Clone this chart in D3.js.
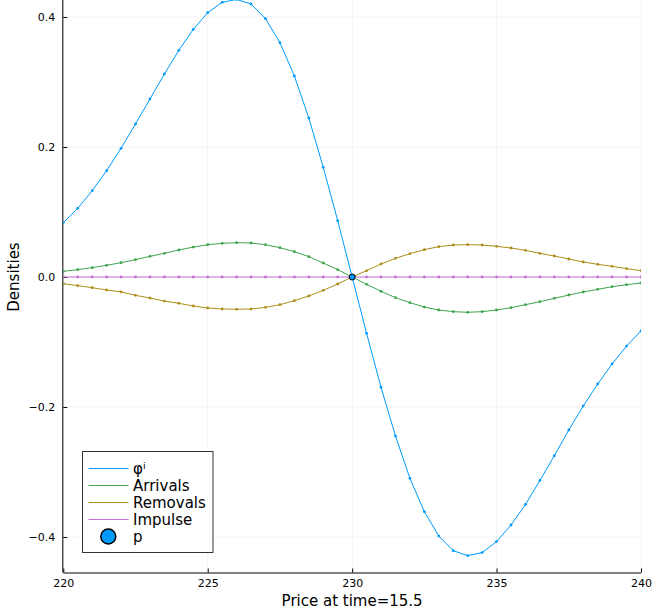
<!DOCTYPE html>
<html>
<head>
<meta charset="utf-8">
<script src="https://cdn.jsdelivr.net/npm/d3@7/dist/d3.min.js"></script>
<style>
  html, body { margin: 0; padding: 0; background: #fff; }
  svg { display: block; font-family: "DejaVu Sans", sans-serif; }
</style>
</head>
<body>
<svg id="chart" width="658" height="613"></svg>
<script>
// ---- data ----
const prices = [220, 220.5, 221, 221.5, 222, 222.5, 223, 223.5, 224, 224.5,
  225, 225.5, 226, 226.5, 227, 227.5, 228, 228.5, 229, 229.5,
  230, 230.5, 231, 231.5, 232, 232.5, 233, 233.5, 234, 234.5,
  235, 235.5, 236, 236.5, 237, 237.5, 238, 238.5, 239, 239.5, 240];

const phi = [0.0835, 0.1057, 0.1328, 0.1636, 0.1980, 0.2354, 0.2738, 0.3123, 0.3487, 0.3810,
  0.4066, 0.4226, 0.4270, 0.4200, 0.3974, 0.3605, 0.3092, 0.2446, 0.1687, 0.0867,
  0.0, -0.0867, -0.1697, -0.2446, -0.3097, -0.3610, -0.3985, -0.4210, -0.4287, -0.4240,
  -0.4070, -0.3815, -0.3500, -0.3130, -0.2750, -0.2354, -0.1985, -0.1646, -0.1338, -0.1062, -0.0831];

const arrivals = [0.0087, 0.0113, 0.0144, 0.0180, 0.0220, 0.0267, 0.0318, 0.0364, 0.0415, 0.0460,
  0.0497, 0.0518, 0.0528, 0.0523, 0.0497, 0.0451, 0.0390, 0.0313, 0.0215, 0.0113,
  0.0, -0.0113, -0.0220, -0.0318, -0.0395, -0.0462, -0.0508, -0.0533, -0.0543, -0.0533,
  -0.0508, -0.0472, -0.0426, -0.0380, -0.0328, -0.0277, -0.0231, -0.0190, -0.0149, -0.0118, -0.0092];

const removals = [-0.0103, -0.0133, -0.0164, -0.0200, -0.0230, -0.0282, -0.0323, -0.0370, -0.0405, -0.0446,
  -0.0477, -0.0492, -0.0497, -0.0492, -0.0467, -0.0426, -0.0364, -0.0292, -0.0205, -0.0108,
  0.0, 0.0097, 0.0200, 0.0287, 0.0359, 0.0420, 0.0467, 0.0492, 0.0497, 0.0492,
  0.0472, 0.0446, 0.0410, 0.0364, 0.0323, 0.0277, 0.0231, 0.0195, 0.0164, 0.0128, 0.0097];

const impulse = [0, 0, 0, 0, 0, 0, 0, 0, 0, 0,
  0, 0, 0, 0, 0, 0, 0, 0, 0, 0,
  0, 0, 0, 0, 0, 0, 0, 0, 0, 0,
  0, 0, 0, 0, 0, 0, 0, 0, 0, 0, 0];

const pPoint = [230, 0];

const xTicks = [220, 225, 230, 235, 240];
const yTicks = [-0.4, -0.2, 0.0, 0.2, 0.4];

const seriesNames = ["φⁱ", "Arrivals", "Removals", "Impulse"];
const seriesColors = ["#009AFA", "#3EA44E", "#AC8E18", "#C371D2"];
const pName = "p";
const xLabel = "Price at time=15.5";
const yLabel = "Densities";

// ---- layout ----
const svg = d3.select("#chart");
const pL = 63.3, pR = 641, pT = -18.5, pB = 572.5;

const x = d3.scaleLinear().domain([220, 240]).range([pL, pR]);
const y = d3.scaleLinear().domain([-0.4546, 0.4546]).range([pB, pT]);

// grid
const grid = svg.append("g");
grid.selectAll("line.gx").data(xTicks).enter().append("line")
  .attr("x1", d => x(d)).attr("x2", d => x(d))
  .attr("y1", pT).attr("y2", pB)
  .attr("stroke", "#000").attr("stroke-opacity", 0.1).attr("stroke-width", 0.5);
grid.selectAll("line.gy").data(yTicks).enter().append("line")
  .attr("x1", pL).attr("x2", pR)
  .attr("y1", d => y(d)).attr("y2", d => y(d))
  .attr("stroke", "#000").attr("stroke-opacity", 0.1).attr("stroke-width", 0.5);

// axes
const fmtY = d => d3.format(".1f")(d).replace("-", "\u2212");
const xAxis = d3.axisBottom(x).tickValues(xTicks).tickSizeInner(-4).tickSizeOuter(0)
  .tickPadding(7).tickFormat(d3.format("d"));
const yAxis = d3.axisLeft(y).tickValues(yTicks).tickSizeInner(-4).tickSizeOuter(0)
  .tickPadding(8).tickFormat(fmtY);

const gx = svg.append("g").attr("transform", `translate(0,${pB})`).call(xAxis);
const gy = svg.append("g").attr("transform", `translate(${pL},0)`).call(yAxis);
[gx, gy].forEach(g => {
  g.select(".domain").attr("stroke", "#000").attr("stroke-width", 1);
  g.selectAll(".tick line").attr("stroke", "#000").attr("stroke-width", 1);
  g.selectAll(".tick text").attr("font-size", 11).attr("fill", "#000")
    .attr("font-family", "DejaVu Sans, sans-serif");
});
gx.select(".domain").attr("d", `M${pL},0.5H${pR}`);
gy.select(".domain").attr("d", `M-0.5,${pB}V${pT}`);

// clip
svg.append("clipPath").attr("id", "clip").append("rect")
  .attr("x", pL).attr("y", pT).attr("width", pR - pL).attr("height", pB - pT);

const plot = svg.append("g").attr("clip-path", "url(#clip)");
const line = d3.line().x(d => x(d[0])).y(d => y(d[1]));

const allSeries = [phi, arrivals, removals, impulse];
allSeries.forEach((vals, i) => {
  const pts = prices.map((p, j) => [p, vals[j]]);
  plot.append("path").datum(pts).attr("d", line)
    .attr("fill", "none").attr("stroke", seriesColors[i]).attr("stroke-width", 1);
  plot.selectAll(null).data(pts).enter().append("circle")
    .attr("cx", d => x(d[0])).attr("cy", d => y(d[1])).attr("r", 1.4)
    .attr("fill", seriesColors[i]);
});

// p point
plot.append("circle").attr("cx", x(pPoint[0])).attr("cy", y(pPoint[1])).attr("r", 3)
  .attr("fill", "#009AFA").attr("stroke", "#000").attr("stroke-width", 1);

// labels
svg.append("text").attr("x", (pL + pR) / 2).attr("y", 606)
  .attr("text-anchor", "middle").attr("font-size", 15).attr("fill", "#000").text(xLabel);
svg.append("text").attr("transform", `translate(18.5,277) rotate(-90)`)
  .attr("text-anchor", "middle").attr("font-size", 15).attr("fill", "#000").text(yLabel);

// legend
const lg = svg.append("g");
lg.append("rect").attr("x", 82.5).attr("y", 451.5).attr("width", 130.5).attr("height", 101)
  .attr("fill", "#fff").attr("stroke", "#333").attr("stroke-width", 1);
const rowY = [468.5, 485.5, 502.5, 519.5];
seriesNames.forEach((n, i) => {
  lg.append("line").attr("x1", 88.5).attr("x2", 128.5).attr("y1", rowY[i]).attr("y2", rowY[i])
    .attr("stroke", seriesColors[i]).attr("stroke-width", 1.1);
  lg.append("text").attr("x", 133).attr("y", rowY[i] + 5.5).attr("font-size", 15)
    .attr("fill", "#000").text(n);
});
lg.append("circle").attr("cx", 108.3).attr("cy", 536.5).attr("r", 7.5)
  .attr("fill", "#009AFA").attr("stroke", "#000").attr("stroke-width", 1.5);
lg.append("text").attr("x", 133).attr("y", 536.5 + 5.5).attr("font-size", 15)
  .attr("fill", "#000").text(pName);
</script>
</body>
</html>
